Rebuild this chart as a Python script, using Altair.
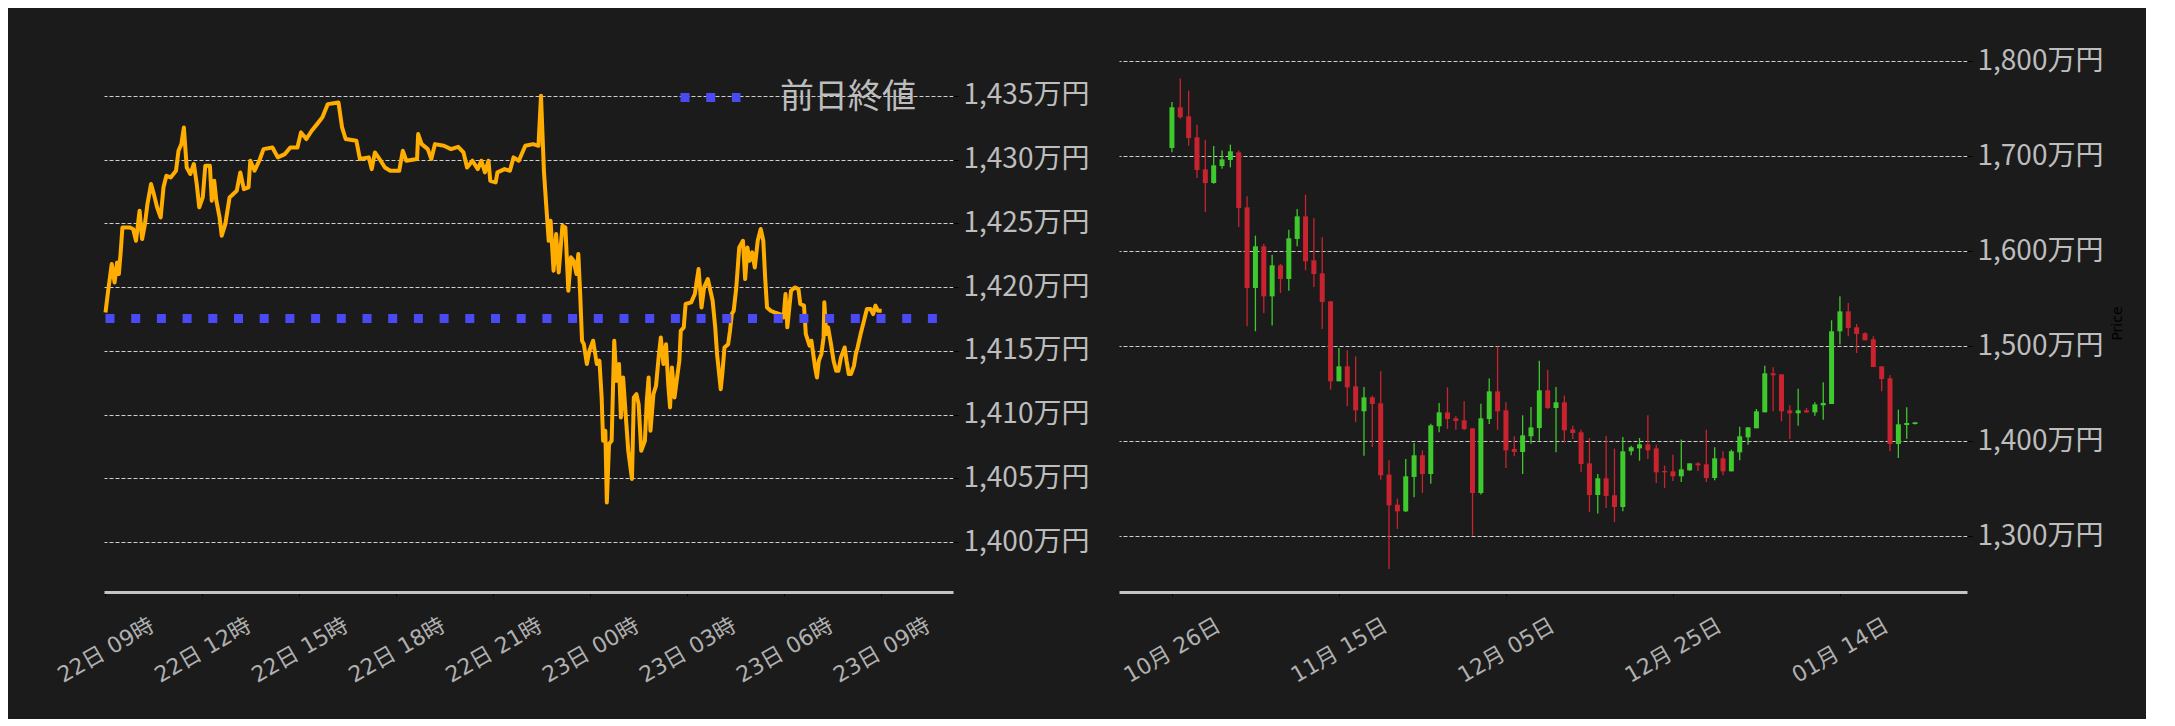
import altair as alt
import pandas as pd

# ---------------- Left panel: intraday price (hours after 22日 09:00, price in 万円) ----------------
intraday_hours = [
    0.0, 0.082, 0.193, 0.281, 0.358, 0.413, 0.469, 0.524, 0.745, 0.855,
    0.944, 1.054, 1.132, 1.22, 1.297, 1.408, 1.496, 1.596, 1.706, 1.794,
    1.883, 2.015, 2.181, 2.258, 2.347, 2.424, 2.512, 2.623, 2.733, 2.822,
    2.899, 3.009, 3.087, 3.23, 3.286, 3.363, 3.429, 3.529, 3.595, 3.706,
    3.838, 4.059, 4.17, 4.28, 4.424, 4.479, 4.611, 4.777, 4.888, 5.164,
    5.329, 5.55, 5.716, 5.937, 6.047, 6.213, 6.379, 6.545, 6.71, 6.876,
    7.207, 7.318, 7.428, 7.76, 7.87, 8.146, 8.235, 8.334, 8.478, 8.643,
    8.809, 9.085, 9.196, 9.306, 9.637, 9.671, 9.781, 9.969, 10.079, 10.19,
    10.466, 10.687, 10.908, 11.074, 11.184, 11.35, 11.515, 11.626, 11.736, 11.847,
    11.902, 12.068, 12.123, 12.344, 12.51, 12.62, 12.786, 12.985, 13.227, 13.393,
    13.471, 13.561, 13.63, 13.71, 13.767, 13.859, 13.939, 14.019, 14.134, 14.225,
    14.317, 14.397, 14.477, 14.569, 14.626, 14.683, 14.74, 14.797, 14.889, 14.969,
    15.083, 15.198, 15.278, 15.347, 15.392, 15.461, 15.507, 15.575, 15.656, 15.736,
    15.804, 15.884, 15.942, 16.01, 16.09, 16.17, 16.285, 16.342, 16.422, 16.491,
    16.571, 16.685, 16.743, 16.8, 16.857, 16.949, 17.029, 17.109, 17.177, 17.258,
    17.338, 17.406, 17.463, 17.521, 17.601, 17.681, 17.75, 17.795, 17.887, 17.944,
    18.116, 18.23, 18.345, 18.436, 18.516, 18.631, 18.711, 18.78, 18.86, 18.917,
    19.031, 19.088, 19.146, 19.26, 19.317, 19.374, 19.432, 19.512, 19.603, 19.718,
    19.786, 19.855, 19.924, 20.004, 20.084, 20.175, 20.267, 20.347, 20.404, 20.462,
    20.576, 20.69, 20.862, 20.976, 21.034, 21.091, 21.205, 21.32, 21.434, 21.491,
    21.606, 21.663, 21.778, 21.835, 21.892, 21.949, 22.007, 22.064, 22.144, 22.212,
    22.235, 22.292, 22.35, 22.441, 22.521, 22.601, 22.67, 22.75, 22.864, 22.922,
    22.99, 23.059, 23.151, 23.208, 23.265, 23.288, 23.357, 23.437, 23.551, 23.666,
    23.746, 23.815, 23.895, 24.009,
]
intraday_price = [
    1418.0, 1419.71, 1421.8, 1420.36, 1421.93, 1421.02, 1422.72, 1424.68, 1424.68, 1424.55,
    1423.63, 1425.99, 1423.76, 1424.94, 1426.51, 1428.08, 1427.29, 1426.25, 1425.46, 1427.82,
    1428.73, 1428.6, 1429.12, 1430.69, 1431.21, 1432.52, 1429.38, 1428.86, 1429.65, 1428.08,
    1426.25, 1427.03, 1429.51, 1429.51, 1426.77, 1428.34, 1426.77, 1425.46, 1424.03, 1424.94,
    1427.03, 1427.55, 1428.99, 1427.68, 1427.82, 1429.91, 1429.12, 1430.04, 1430.82, 1430.95,
    1430.17, 1430.43, 1430.95, 1430.95, 1432.13, 1431.61, 1432.26, 1432.78, 1433.31, 1434.35,
    1434.48, 1432.52, 1431.61, 1431.48, 1430.04, 1430.17, 1429.25, 1430.56, 1430.04, 1429.38,
    1429.12, 1429.12, 1430.69, 1429.91, 1430.04, 1432.0, 1431.21, 1430.82, 1430.04, 1431.21,
    1431.08, 1430.82, 1431.0, 1430.56, 1429.38, 1429.91, 1429.25, 1429.91, 1428.99, 1429.91,
    1428.34, 1428.21, 1428.99, 1429.25, 1429.12, 1430.17, 1429.91, 1431.08, 1431.21, 1431.08,
    1435.0, 1429.12, 1426.51, 1423.63, 1425.2, 1421.28, 1424.16, 1421.15, 1424.81, 1424.68,
    1419.71, 1422.33, 1422.06, 1421.02, 1422.59, 1419.45, 1415.79, 1415.52, 1413.96, 1415.0,
    1415.79, 1413.96, 1414.22, 1411.34, 1407.94, 1408.73, 1403.11, 1407.68, 1407.94, 1415.79,
    1412.65, 1413.96, 1409.77, 1412.91, 1410.03, 1407.16, 1404.94, 1411.34, 1411.6, 1410.82,
    1407.16, 1407.94, 1411.08, 1412.91, 1408.73, 1411.6, 1412.26, 1414.48, 1416.05, 1413.96,
    1415.52, 1412.39, 1410.56, 1413.69, 1411.34, 1412.91, 1414.22, 1416.57, 1416.84, 1418.67,
    1418.8, 1419.45, 1421.41, 1418.4, 1419.97, 1420.63, 1419.71, 1418.93, 1416.84, 1414.74,
    1411.99, 1413.43, 1415.26, 1415.52, 1416.57, 1417.88, 1418.14, 1419.97, 1423.11, 1423.63,
    1420.63, 1423.11, 1422.06, 1422.72, 1421.54, 1423.63, 1424.55, 1423.63, 1420.76, 1418.4,
    1418.14, 1418.01, 1417.88, 1417.62, 1419.45, 1416.84, 1419.71, 1419.97, 1419.84, 1418.67,
    1418.54, 1416.31, 1415.4, 1415.79, 1414.74, 1413.7, 1412.91, 1414.22, 1414.74, 1416.05,
    1418.8, 1416.31, 1416.84, 1415.53, 1414.22, 1413.43, 1413.43, 1414.48, 1415.26, 1414.22,
    1413.17, 1413.17, 1413.82, 1414.74, 1415.26, 1415.53, 1416.31, 1417.1, 1418.27, 1418.27,
    1417.88, 1418.54, 1418.14, 1418.14,
]
intraday_start = "2026-01-22 09:00"
prev_close_label = "前日終値"
prev_close_value = 1417.54
prev_close_span_hours = [0.0, 25.78]

left_y_ticks = [1400, 1405, 1410, 1415, 1420, 1425, 1430, 1435]
left_x_tick_hours = [(22, 9), (22, 12), (22, 15), (22, 18), (22, 21), (23, 0), (23, 3), (23, 6), (23, 9)]

# ---------------- Right panel: daily candles (万円) ----------------
candle_start = "2025-10-26"
opens = [
    1708.8, 1751.6, 1742.1, 1720.0, 1686.3, 1671.9, 1689.8, 1696.1, 1704.2, 1646.3,
    1561.4, 1605.3, 1552.6, 1585.3, 1570.9, 1613.0, 1636.8, 1590.5, 1576.8, 1547.4,
    1463.2, 1478.9, 1457.9, 1431.6, 1446.3, 1440.0, 1364.9, 1333.3, 1326.3, 1362.5,
    1385.3, 1365.6, 1415.8, 1430.5, 1424.2, 1422.1, 1413.7, 1345.6, 1423.5, 1452.6,
    1432.6, 1391.9, 1388.8, 1405.3, 1414.0, 1453.7, 1435.1, 1441.1, 1412.6, 1409.5,
    1376.8, 1343.5, 1361.1, 1343.2, 1330.9, 1389.5, 1392.6, 1396.8, 1392.6, 1368.8,
    1368.4, 1363.2, 1369.5, 1376.8, 1375.8, 1361.4, 1382.1, 1368.4, 1388.4, 1404.2,
    1413.7, 1430.5, 1471.6, 1470.5, 1432.6, 1429.5, 1432.6, 1430.5, 1437.9, 1439.3,
    1515.8, 1536.8, 1520.0, 1513.7, 1507.4, 1478.9, 1466.3, 1397.2, 1417.2, 1418.2,
]
closes = [
    1751.6, 1741.1, 1719.3, 1685.6, 1671.9, 1690.5, 1696.8, 1705.3, 1645.6, 1561.4,
    1605.3, 1552.6, 1585.3, 1570.9, 1613.7, 1636.8, 1589.5, 1576.1, 1546.7, 1463.2,
    1478.9, 1456.8, 1432.6, 1446.3, 1439.3, 1364.2, 1332.6, 1326.3, 1363.2, 1385.3,
    1365.6, 1416.8, 1430.5, 1423.5, 1421.4, 1413.0, 1345.6, 1424.2, 1452.6, 1431.6,
    1390.5, 1388.8, 1406.3, 1414.7, 1453.7, 1435.1, 1441.1, 1411.6, 1408.8, 1376.1,
    1343.5, 1361.1, 1342.5, 1330.9, 1389.5, 1393.7, 1396.8, 1390.5, 1367.4, 1367.4,
    1363.2, 1370.5, 1376.8, 1374.7, 1361.4, 1382.1, 1368.4, 1389.5, 1405.3, 1414.7,
    1431.6, 1471.6, 1469.5, 1431.6, 1429.5, 1432.6, 1430.5, 1438.9, 1440.4, 1515.8,
    1536.8, 1519.3, 1513.0, 1506.3, 1478.2, 1465.6, 1397.2, 1417.9, 1419.3, 1420.0,
]
highs = [
    1757.2, 1781.8, 1769.1, 1733.3, 1717.5, 1710.9, 1706.0, 1712.3, 1706.0, 1657.9,
    1616.5, 1608.1, 1596.5, 1586.7, 1622.8, 1644.6, 1659.6, 1634.7, 1614.7, 1547.4,
    1498.2, 1495.8, 1489.5, 1457.2, 1448.1, 1473.7, 1380.0, 1339.6, 1381.4, 1398.2,
    1390.5, 1418.6, 1440.4, 1456.8, 1426.3, 1442.1, 1413.7, 1439.6, 1466.0, 1500.0,
    1441.1, 1405.3, 1427.4, 1436.1, 1484.9, 1475.4, 1457.2, 1448.1, 1416.5, 1412.3,
    1403.5, 1365.6, 1405.9, 1392.3, 1404.6, 1395.4, 1403.5, 1427.4, 1396.5, 1374.4,
    1386.0, 1401.8, 1376.8, 1377.9, 1412.3, 1393.7, 1389.5, 1391.2, 1415.4, 1414.7,
    1434.0, 1479.6, 1477.9, 1470.5, 1437.9, 1455.4, 1435.1, 1441.1, 1462.1, 1527.4,
    1552.6, 1545.6, 1523.5, 1514.7, 1510.5, 1478.9, 1469.5, 1433.3, 1435.8, 1420.0,
]
lows = [
    1704.2, 1739.6, 1711.2, 1677.2, 1641.4, 1671.0, 1687.0, 1688.4, 1625.6, 1521.1,
    1515.8, 1535.0, 1521.8, 1556.1, 1558.6, 1605.3, 1580.0, 1562.5, 1518.2, 1454.4,
    1463.2, 1436.8, 1420.4, 1384.9, 1394.0, 1359.6, 1265.6, 1307.7, 1325.6, 1341.1,
    1345.6, 1355.4, 1409.5, 1413.0, 1412.3, 1411.6, 1300.7, 1343.9, 1418.2, 1412.3,
    1371.9, 1384.2, 1365.6, 1397.5, 1400.7, 1434.0, 1388.4, 1398.9, 1402.5, 1367.7,
    1325.6, 1323.9, 1329.8, 1315.1, 1326.3, 1385.3, 1379.6, 1381.4, 1356.1, 1350.9,
    1358.2, 1357.2, 1368.8, 1368.8, 1357.2, 1358.9, 1364.2, 1368.4, 1380.0, 1396.5,
    1413.7, 1430.5, 1431.6, 1421.1, 1402.5, 1416.5, 1429.8, 1427.0, 1422.8, 1439.3,
    1501.8, 1510.5, 1493.0, 1506.3, 1478.2, 1452.6, 1389.5, 1382.5, 1402.8, 1417.6,
]
right_y_ticks = [1300, 1400, 1500, 1600, 1700, 1800]
right_x_ticks = [(2025, 10, 26), (2025, 11, 15), (2025, 12, 5), (2025, 12, 25), (2026, 1, 14)]

# ---------------- Styling ----------------
BG = "#1b1b1b"
TEXT = "#bdbdbd"
XTEXT = "#b0b0b0"
GRID = "#cfcfcf"
ORANGE = "#ffad00"
BLUE = "#4a4af2"
GREEN = "#3ec92d"
RED = "#c8232f"
FONT = "Noto Sans CJK JP"
XFONT = "DejaVu Sans, Noto Sans CJK JP"

# ---------------- Data tables ----------------
t0 = pd.Timestamp(intraday_start)
line_df = pd.DataFrame({
    "t": t0 + pd.to_timedelta(intraday_hours, unit="h"),
    "price": intraday_price,
})
prev_df = pd.DataFrame({
    "t0": [t0 + pd.to_timedelta(prev_close_span_hours[0], unit="h")],
    "t1": [t0 + pd.to_timedelta(prev_close_span_hours[1], unit="h")],
    "price": [prev_close_value],
    "label": [prev_close_label],
})
candle_df = pd.DataFrame({
    "date": pd.date_range(candle_start, periods=len(opens), freq="D"),
    "open": opens, "high": highs, "low": lows, "close": closes,
})

left_x_domain = [alt.DateTime(year=2026, month=1, date=22, hours=8, minutes=57, seconds=13),
                 alt.DateTime(year=2026, month=1, date=23, hours=11, minutes=12, seconds=54)]
left_y_domain = [1396.08, 1438.28]
right_x_domain = [alt.DateTime(year=2025, month=10, date=20, hours=6, minutes=14),
                  alt.DateTime(year=2026, month=1, date=28, hours=14, minutes=53)]
right_y_domain = [1241.4, 1807.7]

yen_expr = "format(datum.value, ',') + '万円'"

def x_axis(values, fmt):
    return alt.Axis(values=values, format=fmt, labelAngle=330, labelAlign="center",
                    labelBaseline="middle", labelPadding=54, labelFontSize=22, labelColor=XTEXT,
                    labelFont=XFONT, labelFlush=False, labelOverlap=False, tickSize=4,
                    tickColor="#000000", tickWidth=1, domainColor="#c4c4c4", domainWidth=3,
                    grid=False, title=None)

def y_axis(values, **kw):
    return alt.Axis(orient="right", values=values, labelExpr=yen_expr, labelFontSize=28,
                    labelColor=TEXT, labelFont=FONT, labelPadding=5, tickSize=5,
                    tickColor="#000000", domain=False, grid=True, gridColor=GRID,
                    gridDash=[4, 2], gridWidth=1, **kw)

left_ticks = [alt.DateTime(year=2026, month=1, date=d, hours=h) for d, h in left_x_tick_hours]
right_ticks = [alt.DateTime(year=y, month=m, date=d) for y, m, d in right_x_ticks]

line = alt.Chart(line_df).mark_line(color=ORANGE, strokeWidth=4, strokeJoin="round").encode(
    x=alt.X("t:T", scale=alt.Scale(domain=left_x_domain), axis=x_axis(left_ticks, "%d日 %H時")),
    y=alt.Y("price:Q", scale=alt.Scale(domain=left_y_domain, nice=False, zero=False),
            axis=y_axis(left_y_ticks, title=None)),
)
prev_rule = alt.Chart(prev_df).mark_rule(strokeWidth=9, strokeDash=[9, 16.7], strokeCap="butt").encode(
    x=alt.X("t0:T", scale=alt.Scale(domain=left_x_domain), title=None),
    x2="t1:T",
    y=alt.Y("price:Q", scale=alt.Scale(domain=left_y_domain, nice=False, zero=False), title=None),
    color=alt.Color("label:N", scale=alt.Scale(domain=[prev_close_label], range=[BLUE]),
                    legend=alt.Legend(orient="none", legendX=572, legendY=9, title=None,
                                      symbolType="stroke", symbolSize=3600, symbolStrokeWidth=9,
                                      symbolDash=[9, 16.7], labelFontSize=34, labelColor=TEXT,
                                      labelFont=FONT, labelOffset=35, padding=0, labelLimit=400)),
)
left = alt.layer(line, prev_rule).properties(width=849, height=538)

color_cond = alt.condition("datum.close >= datum.open", alt.value(GREEN), alt.value(RED))
base_r = alt.Chart(candle_df).encode(
    x=alt.X("date:T", scale=alt.Scale(domain=right_x_domain), axis=x_axis(right_ticks, "%m月 %d日")),
    color=color_cond,
)
wick = base_r.mark_rule(strokeWidth=1.3).encode(
    y=alt.Y("low:Q", scale=alt.Scale(domain=right_y_domain, nice=False, zero=False),
            axis=y_axis(right_y_ticks, title="Price", titleColor="#000000", titleFontSize=14,
                        titleFont="DejaVu Sans", titleFontWeight="normal", titleAngle=270,
                        titlePadding=22)),
    y2="high:Q",
)
body = base_r.mark_bar(size=5).encode(
    y=alt.Y("open:Q", scale=alt.Scale(domain=right_y_domain, nice=False, zero=False)),
    y2="close:Q",
)
right = alt.layer(wick, body).properties(width=848, height=538)

chart = alt.hconcat(left, right, spacing=166, bounds="flush").properties(
    background=BG,
    padding={"left": 45, "top": 38, "right": 20, "bottom": 32},
).configure_view(stroke="transparent")

chart.save("out.html", embed_options={"renderer": "svg", "actions": False})
